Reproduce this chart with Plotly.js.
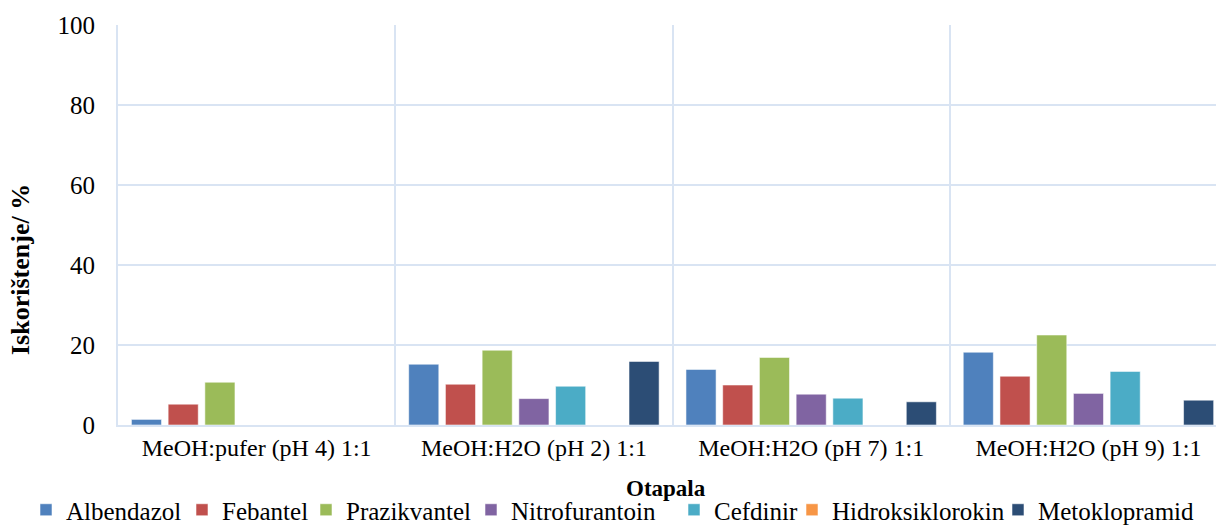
<!DOCTYPE html>
<html>
<head>
<meta charset="utf-8">
<script src="https://cdn.plot.ly/plotly-3.0.1.min.js"></script>
<style>html,body{margin:0;padding:0;background:#fff;overflow:hidden}#chart{width:1216px;height:528px}</style>
</head>
<body>
<div id="chart"></div>
<script>
const categories = ["MeOH:pufer (pH 4) 1:1", "MeOH:H2O (pH 2) 1:1", "MeOH:H2O (pH 7) 1:1", "MeOH:H2O (pH 9) 1:1"];
const seriesNames = ["Albendazol", "Febantel", "Prazikvantel", "Nitrofurantoin", "Cefdinir", "Hidroksiklorokin", "Metoklopramid"];
const albendazol = [1.4, 15.2, 13.9, 18.2];
const febantel = [5.2, 10.2, 10.0, 12.2];
const prazikvantel = [10.7, 18.7, 16.9, 22.5];
const nitrofurantoin = [0, 6.6, 7.7, 7.9];
const cefdinir = [0, 9.7, 6.7, 13.4];
const hidroksiklorokin = [0, 0, 0, 0];
const metoklopramid = [0, 15.9, 5.8, 6.2];
const yTicks = [0, 20, 40, 60, 80, 100];
const xTitle = "Otapala";
const yTitle = "Iskorištenje/ %";

const seriesValues = [albendazol, febantel, prazikvantel, nitrofurantoin, cefdinir, hidroksiklorokin, metoklopramid];
const colors = ["#4F81BD", "#C0504D", "#9BBB59", "#8064A2", "#4BACC6", "#F79646", "#2C4D75"];
// left pixel of each legend entry's text
const legendTextX = [66, 222, 346, 511, 714, 832, 1038];
const gridColor = "#D9E4F3";
const font = "Liberation Serif";
const W = 1216, H = 528;

const traces = seriesNames.map((name, i) => ({
  type: "bar",
  name: name,
  x: categories,
  y: seriesValues[i],
  legend: i === 0 ? "legend" : "legend" + (i + 1),
  marker: { color: colors[i], line: { color: "rgba(255,255,255,0.55)", width: 1 } },
  hoverinfo: "x+y+name"
}));

const layout = {
  width: W, height: H,
  margin: { l: 118, r: 0, t: 25, b: 103 },
  paper_bgcolor: "#fff", plot_bgcolor: "#fff",
  font: { family: font, color: "#000" },
  barmode: "group",
  bargap: 0.073,
  bargroupgap: 0.18,
  showlegend: true,
  xaxis: {
    type: "category",
    range: [-0.5, 3.46],
    tickson: "boundaries",
    showgrid: true, gridcolor: gridColor, gridwidth: 2,
    showline: true, linecolor: gridColor, linewidth: 2,
    ticks: "outside", ticklen: 6, tickcolor: "rgba(0,0,0,0)",
    tickfont: { family: font, size: 24, color: "#000" },
    automargin: false,
    fixedrange: true
  },
  yaxis: {
    range: [0, 100],
    tickvals: yTicks,
    ticktext: yTicks.map(String),
    showgrid: true, gridcolor: gridColor, gridwidth: 2,
    showline: true, linecolor: gridColor, linewidth: 2,
    zeroline: false,
    ticks: "outside", ticklen: 16, tickcolor: "rgba(0,0,0,0)",
    tickfont: { family: font, size: 25, color: "#000" },
    automargin: false,
    fixedrange: true
  },
  annotations: [{
    text: "<b>" + yTitle + "</b>",
    xref: "paper", yref: "paper",
    x: -98 / 1098, y: (425 - 270) / 400,
    xanchor: "center", yanchor: "middle",
    textangle: -90, showarrow: false,
    font: { family: font, size: 26, color: "#000" }
  }, {
    text: "<b>" + xTitle + "</b>",
    xref: "paper", yref: "paper",
    x: (665.5 - 118) / 1098, y: (425 - 488) / 400,
    xanchor: "center", yanchor: "middle",
    showarrow: false,
    font: { family: font, size: 23, color: "#000" }
  }]
};

legendTextX.forEach((tx, i) => {
  const key = i === 0 ? "legend" : "legend" + (i + 1);
  layout[key] = {
    orientation: "h",
    xref: "container", yref: "container",
    x: (tx - 40) / W, xanchor: "left",
    y: (H - 510) / H, yanchor: "middle",
    bgcolor: "rgba(0,0,0,0)",
    borderwidth: 0,
    font: { family: font, size: 25, color: "#000" },
    itemwidth: 30
  };
});

Plotly.newPlot("chart", traces, layout, { displayModeBar: false, staticPlot: true });
</script>
</body>
</html>
